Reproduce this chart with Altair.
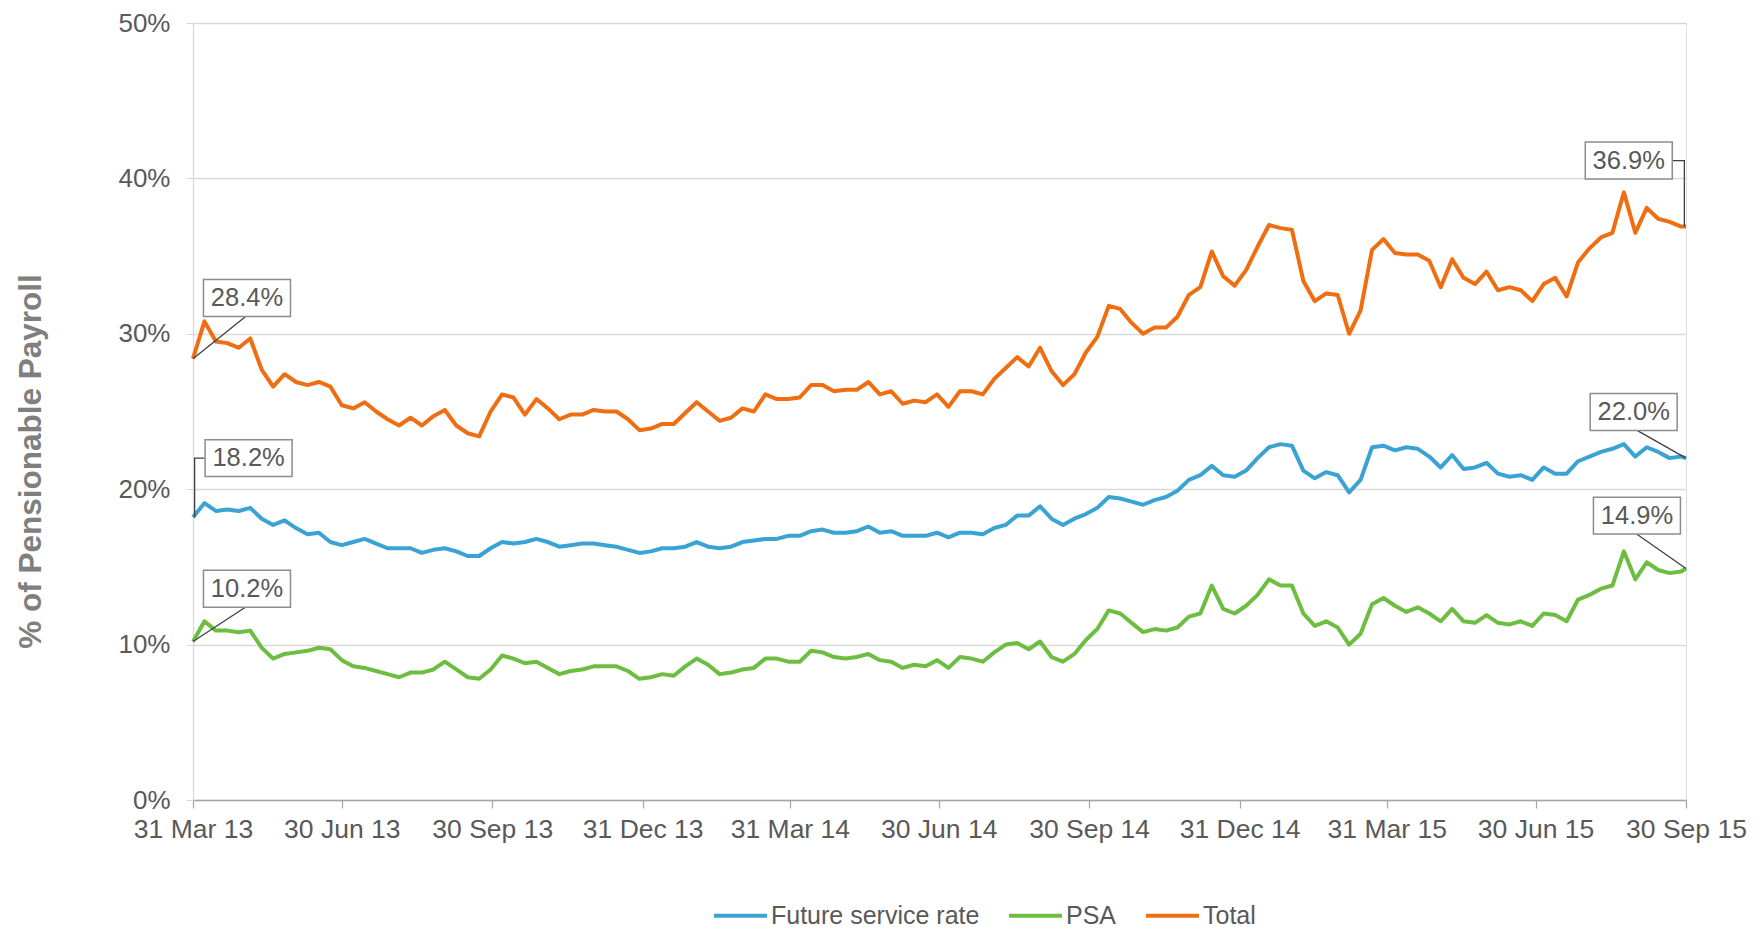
import altair as alt
import pandas as pd

# ---------------- data (weekly samples) ----------------
DATES = list(pd.date_range("2013-03-31", periods=131, freq="7D").strftime("%Y-%m-%d")) + ["2015-09-30"]

TOTAL = [
    28.4, 30.8, 29.5, 29.4, 29.1, 29.7, 27.7, 26.6, 27.4, 26.9,
    26.7, 26.9, 26.6, 25.4, 25.2, 25.6, 25.0, 24.5, 24.1, 24.6,
    24.1, 24.7, 25.1, 24.1, 23.6, 23.4, 25.0, 26.1, 25.9, 24.8,
    25.8, 25.2, 24.5, 24.8, 24.8, 25.1, 25.0, 25.0, 24.5, 23.8,
    23.9, 24.2, 24.2, 24.9, 25.6, 25.0, 24.4, 24.6, 25.2, 25.0,
    26.1, 25.8, 25.8, 25.9, 26.7, 26.7, 26.3, 26.4, 26.4, 26.9,
    26.1, 26.3, 25.5, 25.7, 25.6, 26.1, 25.3, 26.3, 26.3, 26.1,
    27.1, 27.8, 28.5, 27.9, 29.1, 27.6, 26.7, 27.4, 28.8, 29.8,
    31.8, 31.6, 30.7, 30.0, 30.4, 30.4, 31.1, 32.5, 33.0, 35.3,
    33.7, 33.1, 34.1, 35.6, 37.0, 36.8, 36.7, 33.4, 32.1, 32.6,
    32.5, 30.0, 31.5, 35.4, 36.1, 35.2, 35.1, 35.1, 34.7, 33.0,
    34.8, 33.6, 33.2, 34.0, 32.8, 33.0, 32.8, 32.1, 33.2, 33.6,
    32.4, 34.6, 35.5, 36.2, 36.5, 39.1, 36.5, 38.1, 37.4, 37.2,
    36.9, 36.9,
]

FSR = [
    18.2, 19.1, 18.6, 18.7, 18.6, 18.8, 18.1, 17.7, 18.0, 17.5,
    17.1, 17.2, 16.6, 16.4, 16.6, 16.8, 16.5, 16.2, 16.2, 16.2,
    15.9, 16.1, 16.2, 16.0, 15.7, 15.7, 16.2, 16.6, 16.5, 16.6,
    16.8, 16.6, 16.3, 16.4, 16.5, 16.5, 16.4, 16.3, 16.1, 15.9,
    16.0, 16.2, 16.2, 16.3, 16.6, 16.3, 16.2, 16.3, 16.6, 16.7,
    16.8, 16.8, 17.0, 17.0, 17.3, 17.4, 17.2, 17.2, 17.3, 17.6,
    17.2, 17.3, 17.0, 17.0, 17.0, 17.2, 16.9, 17.2, 17.2, 17.1,
    17.5, 17.7, 18.3, 18.3, 18.9, 18.1, 17.7, 18.1, 18.4, 18.8,
    19.5, 19.4, 19.2, 19.0, 19.3, 19.5, 19.9, 20.6, 20.9, 21.5,
    20.9, 20.8, 21.2, 22.0, 22.7, 22.9, 22.8, 21.2, 20.7, 21.1,
    20.9, 19.8, 20.6, 22.7, 22.8, 22.5, 22.7, 22.6, 22.1, 21.4,
    22.2, 21.3, 21.4, 21.7, 21.0, 20.8, 20.9, 20.6, 21.4, 21.0,
    21.0, 21.8, 22.1, 22.4, 22.6, 22.9, 22.1, 22.7, 22.4, 22.0,
    22.1, 22.0,
]

PSA = [
    10.2, 11.5, 10.9, 10.9, 10.8, 10.9, 9.8, 9.1, 9.4, 9.5,
    9.6, 9.8, 9.7, 9.0, 8.6, 8.5, 8.3, 8.1, 7.9, 8.2,
    8.2, 8.4, 8.9, 8.4, 7.9, 7.8, 8.4, 9.3, 9.1, 8.8,
    8.9, 8.5, 8.1, 8.3, 8.4, 8.6, 8.6, 8.6, 8.3, 7.8,
    7.9, 8.1, 8.0, 8.6, 9.1, 8.7, 8.1, 8.2, 8.4, 8.5,
    9.1, 9.1, 8.9, 8.9, 9.6, 9.5, 9.2, 9.1, 9.2, 9.4,
    9.0, 8.9, 8.5, 8.7, 8.6, 9.0, 8.5, 9.2, 9.1, 8.9,
    9.5, 10.0, 10.1, 9.7, 10.2, 9.2, 8.9, 9.4, 10.3, 11.0,
    12.2, 12.0, 11.4, 10.8, 11.0, 10.9, 11.1, 11.8, 12.0, 13.8,
    12.3, 12.0, 12.5, 13.2, 14.2, 13.8, 13.8, 12.0, 11.2, 11.5,
    11.1, 10.0, 10.7, 12.6, 13.0, 12.5, 12.1, 12.4, 12.0, 11.5,
    12.3, 11.5, 11.4, 11.9, 11.4, 11.3, 11.5, 11.2, 12.0, 11.9,
    11.5, 12.9, 13.2, 13.6, 13.8, 16.0, 14.2, 15.3, 14.8, 14.6,
    14.7, 14.9,
]

SERIES_NAMES = ["Future service rate", "PSA", "Total"]
SERIES_COLORS = ["#3BA3D4", "#6CBD40", "#EF6E12"]

X_TICKS = ["2013-03-31", "2013-06-30", "2013-09-30", "2013-12-31", "2014-03-31",
           "2014-06-30", "2014-09-30", "2014-12-31", "2015-03-31", "2015-06-30",
           "2015-09-30"]
Y_TICKS = [0, 10, 20, 30, 40, 50]

# annotation boxes: label, box-centre date, box-centre value
ANN_LABELS = ["28.4%", "18.2%", "10.2%", "36.9%", "22.0%", "14.9%"]
ANN_DATES = ["2013-05-03", "2013-05-04", "2013-05-03", "2015-08-26", "2015-08-29", "2015-08-31"]
ANN_VALUES = [32.3, 22.0, 13.6, 41.15, 24.97, 18.3]

# leader lines: id, order, date, value
LEAD_ID = ["a", "a", "b", "b", "b", "c", "c", "d", "d", "d", "e", "e", "f", "f"]
LEAD_ORDER = [0, 1, 0, 1, 2, 0, 1, 0, 1, 2, 0, 1, 0, 1]
LEAD_DATES = ["2013-03-31", "2013-05-02",
              "2013-04-07", "2013-04-01", "2013-04-01",
              "2013-03-31", "2013-05-02",
              "2015-09-21", "2015-09-29", "2015-09-29",
              "2015-08-30", "2015-09-30",
              "2015-08-31", "2015-09-30"]
LEAD_VALUES = [28.4, 31.1,
               22.0, 22.0, 18.2,
               10.2, 12.4,
               41.15, 41.15, 36.9,
               23.85, 22.0,
               17.1, 14.9]

# ---------------- tables ----------------
rows = []
for name, vals in zip(SERIES_NAMES, [FSR, PSA, TOTAL]):
    for d, v in zip(DATES, vals):
        rows.append({"date": d, "value": v, "series": name})
df = pd.DataFrame(rows)

ann = pd.DataFrame({"label": ANN_LABELS, "date": ANN_DATES, "value": ANN_VALUES})
lead = pd.DataFrame({"id": LEAD_ID, "ord": LEAD_ORDER, "date": LEAD_DATES, "value": LEAD_VALUES})


def ms(s):
    return int(pd.Timestamp(s, tz="UTC").timestamp() * 1000)


FONT = "Liberation Sans"
TXT = "#595959"

xscale = alt.Scale(type="utc", domain=[ms("2013-03-31"), ms("2015-09-30")], nice=False)
yscale = alt.Scale(domain=[0, 50], nice=False, zero=True)

x_axis = alt.Axis(
    values=[ms(s) for s in X_TICKS],
    labelExpr="utcFormat(datum.value, '%d %b %y')",
    grid=False, domainColor="#A6A6A6", domainWidth=1.5,
    tickColor="#A6A6A6", tickSize=8, tickWidth=1.2,
    labelFont=FONT, labelFontSize=26.5, labelColor=TXT, labelPadding=8,
    labelOverlap=False, labelFlush=False, title=None,
)
y_axis = alt.Axis(
    values=Y_TICKS, labelExpr="datum.value + '%'",
    grid=True, gridColor="#D9D9D9", gridWidth=1.3,
    domainColor="#D9D9D9", domainWidth=1.3,
    tickColor="#D9D9D9", tickSize=7,
    labelFont=FONT, labelFontSize=26, labelColor=TXT, labelPadding=16,
    title="% of Pensionable Payroll", titleFont=FONT, titleFontSize=31.5,
    titleFontWeight="bold", titleColor="#7F7F7F", titleAngle=270,
    titleX=-162, titleY=438, titleAlign="center", titleBaseline="middle",
)

lines = alt.Chart(df).mark_line(strokeWidth=4, strokeJoin="round").encode(
    x=alt.X("date:T", scale=xscale, axis=x_axis),
    y=alt.Y("value:Q", scale=yscale, axis=y_axis),
    color=alt.Color(
        "series:N",
        scale=alt.Scale(domain=SERIES_NAMES, range=SERIES_COLORS),
        sort=SERIES_NAMES,
        legend=alt.Legend(
            title=None, orient="none", direction="horizontal",
            legendX=519, legendY=864, padding=0,
            symbolType="stroke", symbolSize=2809, symbolStrokeWidth=4,
            labelFont=FONT, labelFontSize=25, labelColor=TXT, labelLimit=0,
            labelOffset=2, columnPadding=21,
        ),
    ),
    detail="series:N",
)

leaders = alt.Chart(lead).mark_line(color="#404040", strokeWidth=1.3).encode(
    x=alt.X("date:T", scale=xscale),
    y=alt.Y("value:Q", scale=yscale),
    detail="id:N",
    order="ord:Q",
)

BOX = "M-1,-0.425L1,-0.425L1,0.425L-1,0.425Z"
boxes = alt.Chart(ann).mark_point(
    shape=BOX, size=7569, filled=True, fill="white", fillOpacity=1,
    stroke="#8C8C8C", strokeWidth=1.5, opacity=1,
).encode(
    x=alt.X("date:T", scale=xscale),
    y=alt.Y("value:Q", scale=yscale),
)

labels = alt.Chart(ann).mark_text(
    font=FONT, fontSize=25.5, color=TXT, align="center", baseline="middle",
).encode(
    x=alt.X("date:T", scale=xscale),
    y=alt.Y("value:Q", scale=yscale),
    text="label:N",
)

chart = alt.layer(lines, leaders, boxes, labels).properties(
    width=1493, height=777,
    padding={"left": 185, "top": 15, "right": 66, "bottom": 128},
    autosize=alt.AutoSizeParams(type="none"),
).configure_view(stroke=None).configure(background="white")

chart.save("out.html", embed_options={"renderer": "svg", "actions": False})
